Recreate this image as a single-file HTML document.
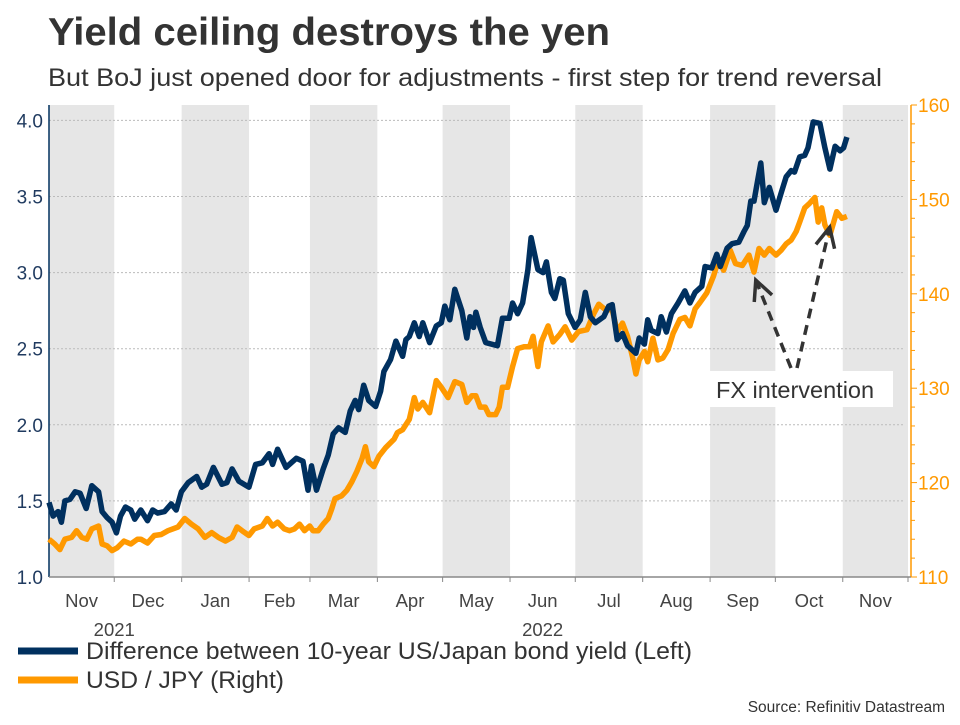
<!DOCTYPE html>
<html><head><meta charset="utf-8"><style>
body{margin:0;background:#fff;width:960px;height:720px;overflow:hidden;font-family:"Liberation Sans",Arial,sans-serif}
</style></head><body>
<svg width="960" height="720" xmlns="http://www.w3.org/2000/svg" font-family="Liberation Sans, Arial, sans-serif">
<text x="48" y="45" font-size="39" font-weight="bold" fill="#333" textLength="562" lengthAdjust="spacingAndGlyphs">Yield ceiling destroys the yen</text>
<text x="48" y="86" font-size="25" fill="#333" textLength="834" lengthAdjust="spacingAndGlyphs">But BoJ just opened door for adjustments - first step for trend reversal</text>
<g id="bands"></g><g id="grid"></g><g id="axes"></g><g id="lines"></g><g id="annot"></g>
<g>
<line x1="18" y1="651" x2="78" y2="651" stroke="#00305f" stroke-width="7"/>
<text x="86" y="659" font-size="24" fill="#333" textLength="606" lengthAdjust="spacingAndGlyphs">Difference between 10-year US/Japan bond yield (Left)</text>
<line x1="18" y1="680" x2="78" y2="680" stroke="#ff9900" stroke-width="7"/>
<text x="86" y="688" font-size="24" fill="#333" textLength="198" lengthAdjust="spacingAndGlyphs">USD / JPY (Right)</text>
</g>
<text x="945" y="712" font-size="15.5" fill="#333" text-anchor="end">Source: Refinitiv Datastream</text>
</svg>
<script>
const monthLabels=["Nov","Dec","Jan","Feb","Mar","Apr","May","Jun","Jul","Aug","Sep","Oct","Nov"];
const monthStartDays=[0,30,61,92,120,151,181,212,242,273,304,334,365,395];
const yearLabels=["2021","2022"];
const leftTicks=[1.0,1.5,2.0,2.5,3.0,3.5,4.0];
const rightTicks=[110,120,130,140,150,160];
const yieldDays=[0,1.9,4.2,5.7,7.3,9.6,12,14.3,17.1,19.7,22.8,24.4,26.7,29,31,32.9,35.2,37.6,39.4,42.2,45.3,47.7,50,53.1,56.2,58.5,60.9,64,67.9,70.2,72.5,75.6,79.5,81.8,84.2,87.3,91.9,95,98.1,101.2,102.8,105.1,109,113.7,116.8,119.1,120.7,123,126.1,128.4,130.7,133.1,136.2,138.5,140.8,142.4,144.7,147,150.2,152.5,154,157.1,159.5,162.6,164.1,165.7,168,170.3,171.9,175,178.1,180.4,182,184.3,186.6,189.8,192.1,193.6,195.2,196.3,198.3,200.8,206.2,208.5,211.6,213.2,215.5,217.8,220.2,221.7,224.8,227.2,228.7,231,232.6,234.9,236.5,238.8,241.9,244.3,246.6,248.9,251.2,255.1,257.4,259,261.3,263.7,266,269.9,271.4,273.8,275.3,276.9,280,281.5,283.9,286.2,289.3,292.4,294.7,297.1,300.2,301.7,304.8,307.1,308.7,311.8,314.1,317.2,319.6,321.1,322.7,324.2,325.8,327.3,328.9,331.2,334.3,336.6,339,341.3,342.8,345.2,347.5,349,351.4,354.5,356.8,359.1,361.5,363.8,365.4,366.9];
const yieldValues=[1.49,1.40,1.43,1.36,1.50,1.51,1.56,1.55,1.45,1.60,1.56,1.43,1.39,1.36,1.29,1.40,1.46,1.44,1.38,1.44,1.37,1.44,1.42,1.43,1.48,1.44,1.56,1.62,1.66,1.59,1.61,1.72,1.61,1.62,1.71,1.63,1.59,1.74,1.75,1.81,1.74,1.84,1.72,1.78,1.76,1.57,1.73,1.57,1.71,1.80,1.94,1.98,1.95,2.09,2.16,2.10,2.26,2.16,2.12,2.22,2.35,2.43,2.55,2.45,2.56,2.58,2.67,2.58,2.67,2.54,2.65,2.67,2.78,2.69,2.89,2.75,2.57,2.71,2.64,2.74,2.64,2.54,2.52,2.70,2.70,2.80,2.73,2.80,3.02,3.23,3.02,3.00,3.07,2.87,2.83,2.96,2.95,2.73,2.64,2.69,2.87,2.71,2.67,2.71,2.78,2.79,2.56,2.60,2.52,2.47,2.57,2.53,2.69,2.62,2.60,2.71,2.61,2.73,2.80,2.88,2.80,2.87,2.91,3.04,3.03,3.12,3.04,3.16,3.19,3.20,3.27,3.31,3.47,3.47,3.60,3.72,3.46,3.56,3.41,3.52,3.63,3.67,3.66,3.76,3.77,3.82,3.99,3.98,3.82,3.68,3.83,3.80,3.82,3.89];
const fxDays=[0,2.6,5,7.3,10.4,12.7,15.1,17.4,19.7,22.8,24.4,26.7,29,31.4,34.5,37.6,40.7,42.2,45.3,48.4,51.6,54.7,59.3,62.4,65.5,68.6,71.7,74.8,77.9,81.1,84.2,86.5,88.8,91.9,94.3,98.1,100.4,102.8,105.1,108.2,110.6,112.9,115.2,117.5,119.9,121.4,123.8,126.1,128.4,130,131.5,134.6,137,139.3,141.6,144,145.5,147,149.4,151.7,154.8,158.7,160.2,162.6,165.7,168,169.6,171.9,175,178.1,180.4,183.5,186.6,189.8,192.1,194.4,196.3,198.3,200.6,202.3,205.4,207,208.5,210.9,213.2,215.5,218.6,221,222.6,224.8,226.4,229.5,231.8,234.9,237.3,240.4,243.5,247.4,250.5,252.8,255.9,259,261.3,263.7,266,268.3,269.9,271.4,273.8,275.3,277.7,280,282.3,284.7,287,290.1,292.4,294.7,297.1,299.4,302.5,305.6,307.9,310.2,313.3,315.7,318.8,321.9,324.2,326.5,328.9,331.2,334.3,336.6,339,341.3,343.6,345.2,347.5,349.8,352.2,353.7,355.3,356.8,359.1,362.2,364.6,366.9];
const fxValues=[114.0,113.5,112.9,114.0,114.2,114.9,114.2,114.0,115.1,115.4,113.5,113.3,112.8,113.1,113.8,113.5,114.0,114.0,113.6,114.4,114.5,114.9,115.3,116.2,115.6,115.1,114.2,114.7,114.2,113.8,114.2,115.3,114.9,114.4,115.1,115.4,116.2,115.4,115.8,115.1,114.9,115.1,115.6,114.9,115.4,114.9,114.9,115.6,116.2,117.2,118.3,118.6,119.2,120.1,121.2,122.6,123.8,122.2,121.7,122.8,123.7,124.6,125.3,125.6,126.7,129.0,127.8,128.5,127.4,130.8,130.1,129.0,130.7,130.4,128.5,129.2,129.2,128.0,128.0,127.2,127.2,128.0,130.1,130.1,132.3,134.2,134.4,134.4,135.5,132.3,134.9,136.6,134.9,135.7,136.5,135.1,136.0,136.2,137.9,138.9,138.3,138.3,136.0,136.9,135.5,133.3,131.5,133.0,133.9,132.8,135.3,133.0,133.2,134.1,135.8,137.3,137.5,136.6,138.4,139.1,140.1,141.9,143.7,142.5,144.6,143.2,143.0,144.1,142.3,144.8,144.1,144.8,144.1,144.6,145.3,145.7,146.6,147.6,149.1,149.6,150.2,147.6,149.1,147.3,146.2,148.7,148.0,148.2];
const interventionDays=[325,359];

const NS="http://www.w3.org/2000/svg";
const X0=49,X1=908,TOP=105,BOT=577,RAX=911;
const xs=d=>X0+d*(X1-X0)/395;
const yl=v=>BOT-(v-1.0)*(BOT-120.4)/3.0;
const yr=v=>BOT-(v-110)*(BOT-TOP)/50;
function mk(tag,attrs,parent){const e=document.createElementNS(NS,tag);for(const k in attrs)e.setAttribute(k,attrs[k]);parent.appendChild(e);return e;}
const bands=document.getElementById('bands'),grid=document.getElementById('grid'),axes=document.getElementById('axes'),lines=document.getElementById('lines'),annot=document.getElementById('annot');
for(let i=0;i<monthLabels.length;i+=2){
  const r=mk('rect',{x:xs(monthStartDays[i]),y:TOP,width:xs(monthStartDays[i+1])-xs(monthStartDays[i]),height:BOT-TOP,fill:'#e6e6e6'},bands);
  
  
}
leftTicks.forEach(v=>{
  if(v>1.0){const g=mk('line',{x1:X0,x2:905,y1:yl(v),y2:yl(v),stroke:'#bbb','stroke-width':1,'stroke-dasharray':'2,2'},grid);
  
  }
  const t=mk('text',{x:43,y:yl(v)+7,'text-anchor':'end','font-size':19,fill:'#1f3a5f'},axes);t.textContent=v.toFixed(1);
  
  
});
const la=mk('line',{x1:X0,x2:X0,y1:TOP,y2:BOT,stroke:'#00305f','stroke-width':1.5},axes);


const ra=mk('line',{x1:RAX,x2:RAX,y1:TOP,y2:BOT,stroke:'#ff9900','stroke-width':1.5},axes);


for(let v=110;v<=160;v+=2){const major=v%10===0;mk('line',{x1:RAX,x2:RAX+(major?6:4),y1:yr(v),y2:yr(v),stroke:'#ff9900','stroke-width':1},axes);}
rightTicks.forEach(v=>{const t=mk('text',{x:RAX+7,y:yr(v)+7,'font-size':19,fill:'#ff9900'},axes);t.textContent=v;
  
  });
const xa=mk('line',{x1:X0,x2:RAX,y1:BOT,y2:BOT,stroke:'#888','stroke-width':1.5},axes);


monthStartDays.forEach(d=>{if(d>0)mk('line',{x1:xs(d),x2:xs(d),y1:BOT,y2:BOT+5,stroke:'#888','stroke-width':1},axes);});
monthLabels.forEach((m,i)=>{const t=mk('text',{x:(xs(monthStartDays[i])+xs(monthStartDays[i+1]))/2,y:607,'text-anchor':'middle','font-size':18.5,fill:'#444'},axes);t.textContent=m;
  
  });
[[yearLabels[0],monthStartDays[1]],[yearLabels[1],(monthStartDays[7]+monthStartDays[8])/2]].forEach(([y,d])=>{const t=mk('text',{x:xs(d),y:636,'text-anchor':'middle','font-size':18.5,fill:'#444'},axes);t.textContent=y;
  
  });
function path(days,vals,yf){return days.map((d,i)=>(i?'L':'M')+xs(d).toFixed(1)+','+yf(vals[i]).toFixed(1)).join('');}
const p1=mk('path',{d:path(fxDays,fxValues,yr),fill:'none',stroke:'#ff9900','stroke-width':5.5,'stroke-linejoin':'round'},lines);


const p2=mk('path',{d:path(yieldDays,yieldValues,yl),fill:'none',stroke:'#00305f','stroke-width':5.5,'stroke-linejoin':'round'},lines);


const bx=mk('rect',{x:709,y:371,width:184,height:36,fill:'#fff'},annot);


const at=mk('text',{x:716,y:398,'font-size':23.5,fill:'#333'},annot);at.textContent='FX intervention';


const tipOffsets=[8,-8];
interventionDays.forEach((d,i)=>{
  const tx=xs(d),ty=yr(fxValues[fxDays.findIndex(x=>x>=d-1)])+tipOffsets[i];
  const sx=i?797:791,sy=368;
  const a=mk('line',{x1:sx,y1:sy,x2:tx,y2:ty,stroke:'#333','stroke-width':3.5,'stroke-dasharray':'10,7'},annot);
  
  
  const ang=Math.atan2(sy-ty,sx-tx),L=22,s=0.45;
  const h=mk('polyline',{points:`${tx+L*Math.cos(ang-s)},${ty+L*Math.sin(ang-s)} ${tx},${ty} ${tx+L*Math.cos(ang+s)},${ty+L*Math.sin(ang+s)}`,fill:'none',stroke:'#333','stroke-width':3.5},annot);
  
  
});
</script>
</body></html>
